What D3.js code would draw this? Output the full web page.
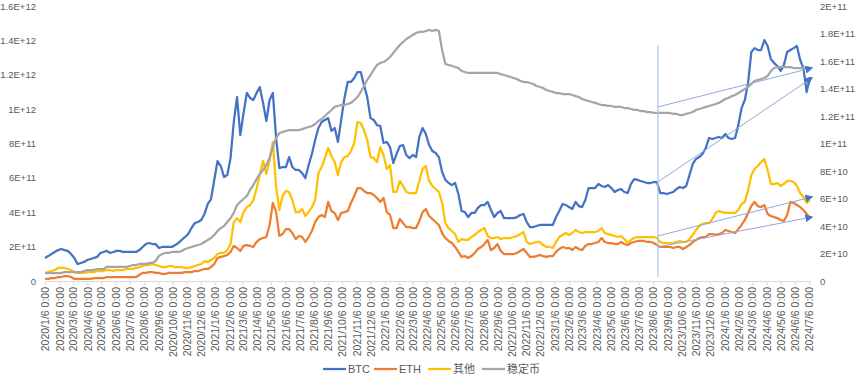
<!DOCTYPE html>
<html>
<head>
<meta charset="utf-8">
<script src="https://cdn.jsdelivr.net/npm/d3@7"></script>
<style>
  body { margin: 0; background: #fff; }
  svg text { font-family: "Liberation Sans", Arial, "Noto Sans CJK SC", sans-serif; fill: #595959; }
</style>
</head>
<body>
<div id="chart"></div>
<script>
// weekly dates, Monday 2020/1/6 .. 2024/7/8
var weeks = d3.timeMonday.range(new Date(2020, 0, 6), new Date(2024, 6, 9));

// market caps in billions (1E9)
var btc = [134,145,157,169,180,186,180,175,157,134,
  99,105,111,122,128,134,140,163,169,175,
  163,169,175,175,169,169,169,169,169,180,
  198,215,221,215,215,192,198,198,198,198,
  209,221,239,256,273,308,337,343,355,390,
  448,477,588,698,669,605,617,715,925,1070,
  849,977,1094,1065,1053,1094,1128,1035,931,1053,
  1094,832,657,663,663,721,663,646,646,628,
  599,675,739,820,890,925,937,948,873,890,
  809,937,1065,1158,1158,1181,1216,1216,1140,1070,
  948,937,907,902,803,809,779,686,739,785,
  791,733,715,733,721,838,890,855,791,756,
  745,721,634,588,570,558,570,506,407,401,
  372,396,396,425,442,442,460,413,372,396,
  407,366,366,366,366,372,384,390,343,314,
  314,320,326,326,326,326,326,372,407,448,
  442,430,419,460,436,430,471,541,541,541,
  564,553,547,558,541,518,529,535,518,512,
  564,593,588,582,576,570,570,576,576,512,
  512,506,512,518,535,547,541,553,617,681,
  710,721,739,774,832,826,832,838,832,855,
  832,826,832,907,1006,1053,1152,1332,1355,1344,
  1344,1402,1367,1291,1268,1251,1222,1256,1332,1344,
  1355,1367,1286,1239,1099,1187];

var eth = [12,12,17,17,23,23,29,29,23,12,
  12,12,12,12,12,17,17,17,17,23,
  23,23,23,23,23,23,23,23,23,35,
  47,47,52,52,47,47,41,41,47,47,
  47,47,47,52,52,52,58,58,64,70,
  70,81,99,134,140,145,151,169,204,192,
  175,204,209,204,198,227,244,250,256,326,
  454,401,262,273,302,302,279,244,262,256,
  227,256,291,343,372,384,372,460,407,396,
  355,396,401,407,454,494,541,541,524,512,
  512,500,483,460,483,401,384,308,308,361,
  337,314,314,308,308,349,401,419,378,361,
  343,326,279,250,233,221,198,169,140,145,
  134,145,163,186,198,215,239,180,192,215,
  175,157,157,157,157,163,175,186,163,140,
  140,145,151,145,140,145,145,169,186,198,
  192,192,180,198,186,180,204,215,215,221,
  227,250,227,221,221,215,215,227,215,209,
  221,227,233,233,233,227,227,221,209,198,
  198,198,198,192,198,198,186,198,209,227,
  239,250,256,256,273,273,268,273,279,297,
  291,285,279,302,326,355,396,436,460,436,
  430,442,390,378,372,366,355,349,384,460,
  454,442,430,413,390,366];

var others = [47,52,58,64,76,76,76,70,64,52,
  47,47,47,52,52,52,58,58,58,64,
  64,58,64,64,64,70,70,70,76,81,
  87,93,93,99,93,87,81,81,87,87,
  81,81,81,76,76,81,87,93,99,116,
  111,122,134,157,163,163,180,215,343,366,
  343,401,430,442,471,535,622,698,622,704,
  809,547,413,494,524,518,471,401,401,419,
  378,401,430,471,628,663,716,774,727,692,
  617,692,721,727,756,803,925,919,878,820,
  721,716,692,779,733,652,675,518,518,582,
  553,518,512,512,512,582,652,669,582,553,
  535,518,454,337,308,291,273,227,244,239,
  239,256,268,285,297,308,262,250,250,256,
  244,250,250,250,256,262,273,285,227,215,
  221,227,227,209,198,198,192,227,256,268,
  279,268,279,297,285,279,285,285,285,285,
  291,308,279,273,268,262,256,262,244,221,
  239,250,256,256,256,256,256,256,250,227,
  221,221,221,221,227,233,227,227,244,268,
  297,320,332,337,337,361,396,407,401,396,
  396,396,396,413,448,460,529,617,652,669,
  692,710,646,564,564,570,553,564,582,582,
  576,553,512,489,454,471];

var stable = [5.8,5.8,5.8,5.8,5.8,5.8,6.5,6.5,6.5,6.5,
  6.5,6.5,7.3,8.0,8.0,8.0,8.7,8.7,8.7,10.2,
  10.2,10.2,10.2,10.2,10.2,10.2,10.9,11.6,11.6,12.4,
  12.4,12.4,13.1,13.1,14.5,18.2,19.6,20.4,20.4,21.1,
  21.1,21.1,21.8,23.3,24.0,24.7,25.5,26.2,26.9,28.4,
  29.8,31.3,33.5,36.4,38.5,40.0,42.9,45.8,49.5,55.3,
  57.5,59.6,61.8,66.2,69.8,74.2,77.8,80.7,84.4,89.5,
  97.5,104.0,107.6,108.4,109.1,109.8,109.8,109.8,109.8,110.5,
  111.3,112.0,112.7,114.2,116.4,117.8,120.0,122.2,124.4,126.6,
  127.3,128.0,128.0,128.7,129.5,131.6,133.8,137.5,141.8,146.2,
  149.8,153.5,157.1,158.6,159.3,160.7,162.9,165.8,168.7,171.6,
  173.8,176.0,177.5,178.9,180.4,181.1,181.1,181.8,182.6,181.8,
  182.6,181.8,168.0,157.8,157.1,156.4,155.6,154.9,152.7,152.0,
  151.3,151.3,151.3,151.3,151.3,151.3,151.3,151.3,151.3,151.3,
  150.5,149.8,149.1,148.4,147.6,146.9,145.5,144.7,144.7,144.0,
  143.3,141.8,141.1,140.4,138.9,138.2,137.5,136.7,136.7,136.0,
  136.0,136.0,135.3,134.5,133.8,132.4,131.6,130.9,130.2,129.5,
  128.7,128.0,128.0,127.3,127.3,126.6,126.6,126.6,125.8,125.8,
  125.1,124.4,124.4,123.6,123.6,122.9,122.9,122.2,122.2,122.2,
  122.2,122.2,122.2,121.5,121.5,120.7,120.7,121.5,122.2,122.9,
  124.4,125.1,125.8,126.6,127.3,128.0,128.7,129.5,130.9,132.4,
  133.1,134.5,135.3,136.7,138.2,139.6,141.1,143.3,145.5,146.2,
  146.9,147.6,149.1,152.7,154.9,155.6,155.6,155.6,155.6,155.6,
  154.9,154.9,154.9,154.9,154.9,154.9];

var leftTicks = [0, 2e11, 4e11, 6e11, 8e11, 1e12, 1.2e12, 1.4e12, 1.6e12];
var leftLabels = ['0','2E+11','4E+11','6E+11','8E+11','1E+12','1.2E+12','1.4E+12','1.6E+12'];
var rightTicks = [0, 2e10, 4e10, 6e10, 8e10, 1e11, 1.2e11, 1.4e11, 1.6e11, 1.8e11, 2e11];
var rightLabels = ['0','2E+10','4E+10','6E+10','8E+10','1E+11','1.2E+11','1.4E+11','1.6E+11','1.8E+11','2E+11'];

var seriesNames = ['BTC', 'ETH', '其他', '稳定币'];
var colors = ['#4472C4', '#ED7D31', '#FFC000', '#A5A5A5'];

// trend annotations: start week / end week, values in billions
var trendStart = new Date(2023, 7, 16);
var trendEnd = new Date(2024, 6, 12);
var trendSeries = ['稳定币', 'BTC', '其他', 'ETH'];
var trendFrom = [126.6, 576, 262, 198];
var trendTo = [154.9, 1181, 489, 372];

var width = 865, height = 375;
var svg = d3.select('#chart').append('svg')
  .attr('width', width)
  .attr('height', height);

var x = d3.scaleTime()
  .domain([new Date(2020, 0, 6), new Date(2024, 6, 6)])
  .range([45, 809]);
var yL = d3.scaleLinear().domain([0, 1.6e12]).range([281, 6]);
var yR = d3.scaleLinear().domain([0, 2e11]).range([281, 6]);

// x axis with monthly ticks on the 6th
var tickDates = d3.timeMonth.range(new Date(2020, 0, 1), new Date(2024, 7, 1))
  .map(function(d){ return new Date(d.getFullYear(), d.getMonth(), 6); });
var fmt = d3.timeFormat('%Y/%-m/%-d 0:00');

var xa = svg.append('g')
  .attr('transform', 'translate(0,281)')
  .call(d3.axisBottom(x).tickValues(tickDates).tickFormat(fmt).tickSize(4).tickSizeOuter(0));
xa.select('.domain').attr('stroke', '#D9D9D9').attr('d', 'M45,0.5H811');
xa.selectAll('.tick line').attr('stroke', '#D9D9D9');
xa.selectAll('.tick text')
  .attr('transform', 'rotate(-90)')
  .attr('text-anchor', 'end')
  .attr('x', -6)
  .attr('y', 0)
  .attr('dy', '0.35em')
  .style('font-size', '10.5px');

var la = svg.append('g')
  .attr('transform', 'translate(45,0)')
  .call(d3.axisLeft(yL).tickValues(leftTicks).tickFormat(function(d, i){ return leftLabels[i]; }).tickSize(0).tickPadding(9));
la.select('.domain').remove();
la.selectAll('text').style('font-size', '9.5px');

var ra = svg.append('g')
  .attr('transform', 'translate(809,0)')
  .call(d3.axisRight(yR).tickValues(rightTicks).tickFormat(function(d, i){ return rightLabels[i]; }).tickSize(0).tickPadding(11));
ra.select('.domain').remove();
ra.selectAll('text').style('font-size', '9.5px');

// series lines
var data = [btc, eth, others, stable];
var scales = [yL, yL, yL, yR];
data.forEach(function(vals, k){
  var ys = scales[k];
  var line = d3.line()
    .x(function(d, i){ return x(weeks[i]); })
    .y(function(d){ return ys(d * 1e9); });
  svg.append('path')
    .datum(vals)
    .attr('fill', 'none')
    .attr('stroke', colors[k])
    .attr('stroke-width', 2.25)
    .attr('stroke-linejoin', 'round')
    .attr('d', line);
});

// annotation: vertical marker and trend arrows
svg.append('defs').append('marker')
  .attr('id', 'arrow')
  .attr('viewBox', '0 0 10 10')
  .attr('refX', 8).attr('refY', 5)
  .attr('markerWidth', 8).attr('markerHeight', 8)
  .attr('markerUnits', 'userSpaceOnUse')
  .attr('orient', 'auto')
  .append('path')
    .attr('d', 'M0,0L10,5L0,10z')
    .attr('fill', '#4472C4');

svg.append('line')
  .attr('x1', x(trendStart)).attr('x2', x(trendStart))
  .attr('y1', yL(1.37e12)).attr('y2', yL(0.025e12))
  .attr('stroke', '#B4C7E7')
  .attr('stroke-width', 1.25);

trendSeries.forEach(function(name, k){
  var ys = name === '稳定币' ? yR : yL;
  svg.append('line')
    .attr('x1', x(trendStart)).attr('y1', ys(trendFrom[k] * 1e9))
    .attr('x2', x(trendEnd)).attr('y2', ys(trendTo[k] * 1e9))
    .attr('stroke', '#8FAADC')
    .attr('stroke-width', 1)
    .attr('marker-end', 'url(#arrow)');
});

// legend
var legendX = [323, 374, 428, 482];
var lg = svg.append('g').attr('transform', 'translate(0,369)');
seriesNames.forEach(function(name, k){
  lg.append('line')
    .attr('x1', legendX[k]).attr('x2', legendX[k] + 23)
    .attr('y1', 0).attr('y2', 0)
    .attr('stroke', colors[k])
    .attr('stroke-width', 2.25);
  lg.append('text')
    .attr('x', legendX[k] + 25)
    .attr('y', 0)
    .attr('dy', '0.35em')
    .style('font-size', '11px')
    .text(name);
});
</script>
</body>
</html>
